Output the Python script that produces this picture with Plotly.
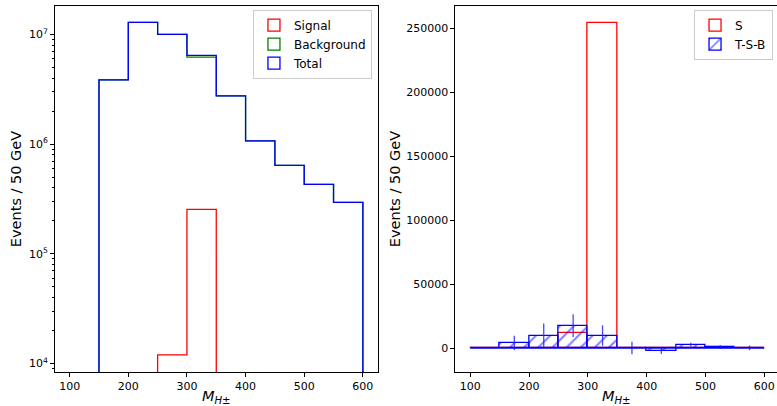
import plotly.graph_objects as go

# ---------------- data ----------------
bin_edges = [100, 150, 200, 250, 300, 350, 400, 450, 500, 550, 600]
signal = [0, 0, 0, 12000, 254000, 0, 0, 0, 0, 0]
background = [0, 3.85e6, 1.29e7, 1.0e7, 6.2e6, 2.75e6, 1.07e6, 6.4e5, 4.3e5, 2.95e5]
total = [0, 3.85e6, 1.29e7, 1.0e7, 6.45e6, 2.75e6, 1.07e6, 6.4e5, 4.3e5, 2.95e5]
tsb = [0, 4000, 9700, 17500, 9700, 0, -2300, 2600, 1000, 200]
tsb_err = [0, 5500, 9400, 8900, 8000, 4800, 2300, 1500, 1300, 1800]

x_ticks = [100, 200, 300, 400, 500, 600]
log_ticks = [1e4, 1e5, 1e6, 1e7]
log_tick_labels = ["10<sup>4</sup>", "10<sup>5</sup>", "10<sup>6</sup>", "10<sup>7</sup>"]
lin_ticks = [0, 50000, 100000, 150000, 200000, 250000]

FONT = "DejaVu Sans"
RED, GREEN, BLUE = "#ff0000", "#008000", "#0000ff"
LW = 1.3


def step_xy(edges, vals, base):
    xs, ys = [edges[0]], [base]
    for i, v in enumerate(vals):
        xs += [edges[i], edges[i + 1]]
        ys += [v, v]
    xs.append(edges[-1])
    ys.append(base)
    return xs, ys


def floor_log(vals, floor=1.0):
    return [v if v > 0 else floor for v in vals]


centers = [(bin_edges[i] + bin_edges[i + 1]) / 2 for i in range(len(bin_edges) - 1)]
width = bin_edges[1] - bin_edges[0]

fig = go.Figure()

# ---- left panel: log histograms (step) ----
for name, vals, col in [("Signal", signal, RED), ("Background", background, GREEN), ("Total", total, BLUE)]:
    xs, ys = step_xy(bin_edges, floor_log(vals), 1.0)
    fig.add_trace(go.Scatter(x=xs, y=ys, mode="lines", line=dict(color=col, width=LW),
                             xaxis="x", yaxis="y", showlegend=False, legendgroup=name,
                             hoverinfo="skip"))
    # legend entry (outlined rectangle)
    fig.add_trace(go.Bar(x=[None], y=[None], name=name, xaxis="x", yaxis="y",
                         marker=dict(color="rgba(0,0,0,0)", line=dict(color=col, width=LW)),
                         legend="legend", legendgroup=name))

# ---- right panel ----
fig.add_trace(go.Bar(x=centers, y=signal, width=width, name="S", xaxis="x2", yaxis="y2",
                     marker=dict(color="rgba(0,0,0,0)", line=dict(color=RED, width=LW)),
                     legend="legend2", hoverinfo="skip"))
fig.add_trace(go.Bar(x=centers, y=tsb, width=width, name="T-S-B", xaxis="x2", yaxis="y2",
                     marker=dict(color="rgba(0,0,0,0)", line=dict(color=BLUE, width=LW),
                                 pattern=dict(shape="/", fgcolor=BLUE, bgcolor="rgba(0,0,0,0)",
                                              size=10, solidity=0.2, fillmode="overlay")),
                     error_y=dict(type="data", array=tsb_err, visible=True, color="rgba(40,40,255,0.85)",
                                  thickness=1.3, width=0),
                     legend="legend2"))
# zero-height bar outlines (baseline of the T-S-B bars)
fig.add_trace(go.Scatter(x=[bin_edges[0], bin_edges[-1]], y=[0, 0], mode="lines",
                         line=dict(color=BLUE, width=LW), xaxis="x2", yaxis="y2",
                         showlegend=False, hoverinfo="skip"))

axis_common = dict(showline=True, linecolor="black", linewidth=1, ticks="outside",
                   ticklen=4, tickwidth=1, tickcolor="black", showgrid=False, zeroline=False,
                   tickfont=dict(family=FONT, size=11, color="black"))
title_font = dict(family=FONT, size=14.5, color="black")
xtitle = "<i>M</i><sub><i>H</i>±</sub>"

minor_vals = [k * 10 ** e for e in range(3, 8) for k in range(2, 10)]

legend_common = dict(xanchor="right", yanchor="top", bgcolor="rgba(255,255,255,0.8)",
                     bordercolor="#cccccc", borderwidth=1,
                     font=dict(family=FONT, size=12, color="black"), tracegroupgap=0)

fig.update_layout(
    width=777, height=406, autosize=False,
    margin=dict(l=55, r=0, t=6, b=34),
    paper_bgcolor="white", plot_bgcolor="white",
    font=dict(family=FONT, size=11, color="black"),
    bargap=0, barmode="overlay",
    xaxis=dict(domain=[0, 0.4467], range=[75, 625], tickmode="array", tickvals=x_ticks,
               mirror=True, anchor="y",
               title=dict(text=xtitle, font=title_font, standoff=2), **axis_common),
    yaxis=dict(domain=[0, 1], type="log", range=[3.923, 7.259], tickmode="array",
               tickvals=log_ticks, ticktext=log_tick_labels, mirror=True, anchor="x",
               minor=dict(ticks="outside", ticklen=2, tickwidth=0.8, tickcolor="black",
                          tickmode="array", tickvals=minor_vals, showgrid=False),
               title=dict(text="Events / 50 GeV", font=title_font, standoff=3), **axis_common),
    xaxis2=dict(domain=[0.5547, 1], range=[75, 621.6], tickmode="array", tickvals=x_ticks,
                mirror=True, anchor="y2",
                title=dict(text=xtitle, font=title_font, standoff=2), **axis_common),
    yaxis2=dict(domain=[0, 1], range=[-18750, 267200], tickmode="array", tickvals=lin_ticks,
                ticktext=[str(v) for v in lin_ticks], mirror=False, anchor="x2",
                title=dict(text="Events / 50 GeV", font=title_font, standoff=2), **axis_common),
    legend=dict(x=0.439, y=0.99, **legend_common),
    legend2=dict(x=0.9945, y=0.99, **legend_common),
)

fig.write_html("out.html", config={"displayModeBar": False},
               post_script="document.body.style.margin='0px';document.body.style.overflow='hidden';")
